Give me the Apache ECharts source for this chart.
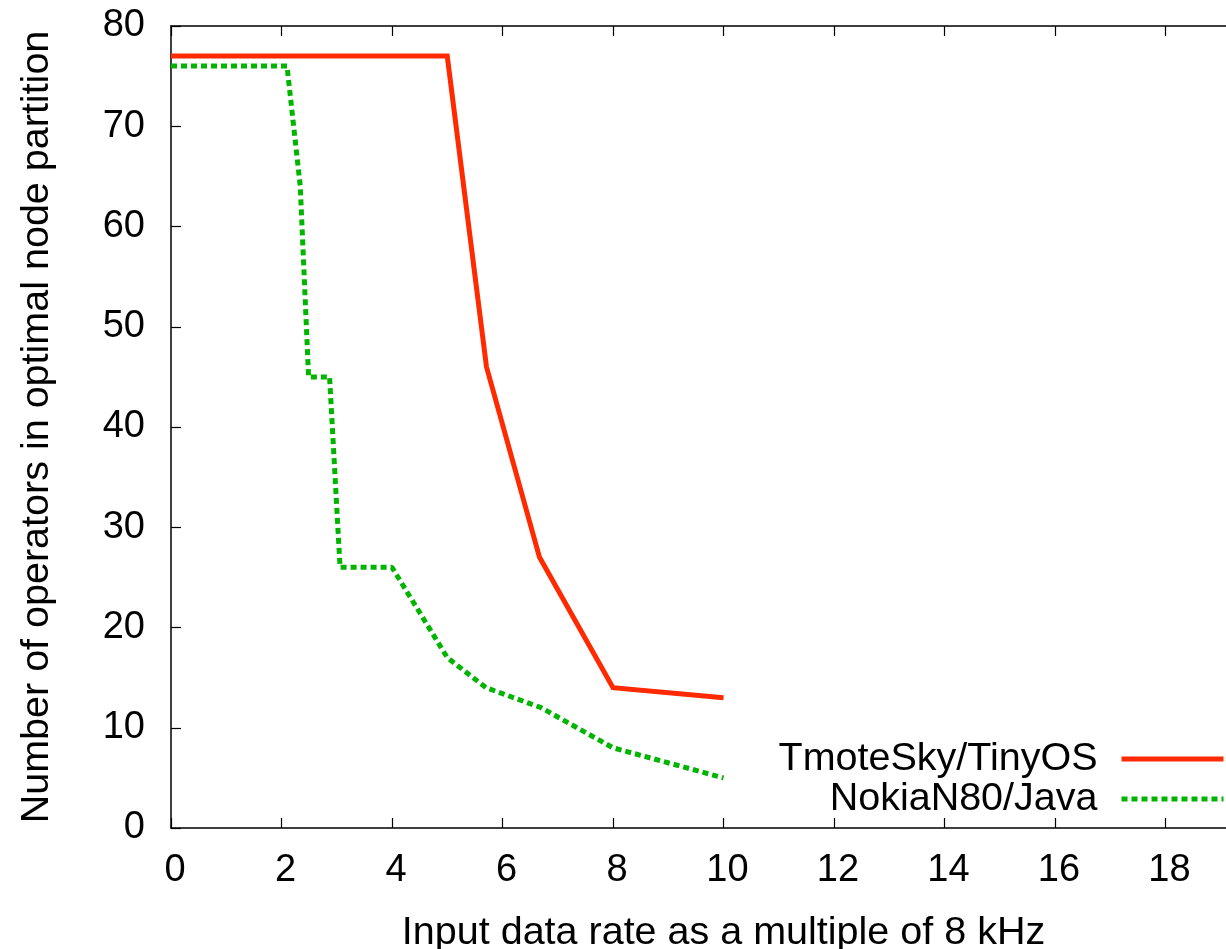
<!DOCTYPE html>
<html>
<head>
<meta charset="utf-8">
<script src="https://cdn.jsdelivr.net/npm/echarts@6/dist/echarts.min.js"></script>
<style>
  html, body { margin: 0; padding: 0; background: #fff; }
  #chart { width: 1226px; height: 949px; }
</style>
</head>
<body>
<div id="chart"></div>
<script>
// Data
const seriesNames = ['TmoteSky/TinyOS', 'NokiaN80/Java'];
const tmoteX = [0, 5, 5.71, 6.67, 8, 10];
const tmoteY = [77, 77, 46, 27, 14, 13];
const nokiaX = [0, 2.1, 2.34, 2.49, 2.87, 3.06, 4, 5, 5.7, 6.7, 8, 10];
const nokiaY = [76, 76, 64, 45, 45, 26, 26, 17, 14, 12, 8, 5];
const xTicks = { min: 0, max: 20, interval: 2 };
const yTicks = { min: 0, max: 80, interval: 10 };
const xTitle = 'Input data rate as a multiple of 8 kHz';
const yTitle = 'Number of operators in optimal node partition';

const pairs = (xs, ys) => xs.map((x, i) => [x, ys[i]]);
const FONT = 'Liberation Sans, Arial, Helvetica, sans-serif';
const FS = 38;
const FS_T = 39.5;

const chart = echarts.init(document.getElementById('chart'), null, { renderer: 'canvas' });
chart.setOption({
  animation: false,
  backgroundColor: '#ffffff',
  textStyle: { fontFamily: FONT },
  grid: { left: 171, top: 26, bottom: 121, right: -50, containLabel: false, outerBoundsMode: 'none' },
  legend: {
    orient: 'vertical',
    right: 0,
    top: 739,
    align: 'right',
    padding: 0,
    itemWidth: 102,
    itemHeight: 14,
    itemGap: 0,
    itemStyle: { opacity: 0 },
    lineStyle: { width: 5 },
    textStyle: { fontFamily: FONT, fontSize: FS_T, color: '#000', lineHeight: 40, padding: [0, 19, 0, 0] },
    data: seriesNames
  },
  xAxis: [{
    type: 'value',
    min: xTicks.min, max: xTicks.max, interval: xTicks.interval,
    position: 'bottom',
    name: xTitle,
    nameLocation: 'middle',
    nameGap: 85,
    nameTextStyle: { fontFamily: FONT, fontSize: FS_T, color: '#000' },
    axisLine: { show: true, lineStyle: { color: '#000', width: 1.5 } },
    axisTick: { show: true, inside: true, length: 10, lineStyle: { color: '#000', width: 1.2 } },
    axisLabel: { fontFamily: FONT, fontSize: FS, color: '#000', margin: 24, padding: [0, 0, 0, 8] },
    splitLine: { show: false }
  }, {
    type: 'value',
    min: xTicks.min, max: xTicks.max, interval: xTicks.interval,
    position: 'top',
    axisLine: { show: true, onZero: false, lineStyle: { color: '#000', width: 1.5 } },
    axisTick: { show: true, inside: true, length: 10, lineStyle: { color: '#000', width: 1.2 } },
    axisLabel: { show: false },
    splitLine: { show: false }
  }],
  yAxis: [{
    type: 'value',
    min: yTicks.min, max: yTicks.max, interval: yTicks.interval,
    name: yTitle,
    nameLocation: 'middle',
    nameGap: 114,
    nameTextStyle: { fontFamily: FONT, fontSize: FS_T, color: '#000' },
    axisLine: { show: true, lineStyle: { color: '#000', width: 1.5 } },
    axisTick: { show: true, inside: true, length: 10, lineStyle: { color: '#000', width: 1.2 } },
    axisLabel: { fontFamily: FONT, fontSize: FS, color: '#000', margin: 26 },
    splitLine: { show: false }
  }],
  series: [{
    name: seriesNames[0],
    type: 'line',
    symbol: 'none',
    data: pairs(tmoteX, tmoteY),
    lineStyle: { color: '#ff2a00', width: 5, join: 'miter' },
    itemStyle: { color: '#ff2a00' }
  }, {
    name: seriesNames[1],
    type: 'line',
    symbol: 'none',
    data: pairs(nokiaX, nokiaY),
    lineStyle: { color: '#00b400', width: 5, type: [6, 4] },
    itemStyle: { color: '#00b400' }
  }]
});
</script>
</body>
</html>
